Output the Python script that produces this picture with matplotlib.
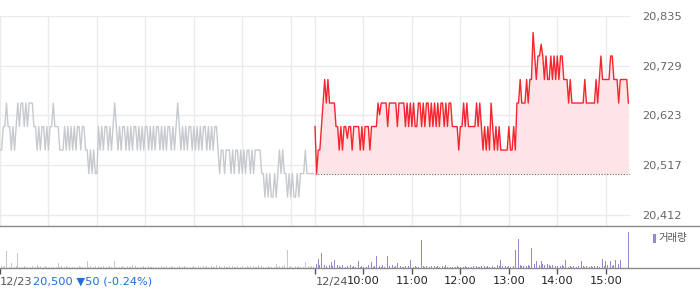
import numpy as np
import matplotlib
matplotlib.use("Agg")
import matplotlib.pyplot as plt
from matplotlib.lines import Line2D
from matplotlib.patches import Rectangle

# prices sampled every 2 minutes, 09:00-15:30
prev_day_price = [
    20550, 20550, 20600, 20600, 20650, 20600, 20600, 20550, 20600, 20550,
    20600, 20650, 20600, 20650, 20650, 20600, 20650, 20600, 20650, 20650,
    20650, 20600, 20600, 20550, 20600, 20550, 20600, 20600, 20550, 20600,
    20550, 20600, 20600, 20650, 20600, 20600, 20600, 20550, 20550, 20550,
    20600, 20550, 20600, 20550, 20600, 20550, 20600, 20550, 20600, 20600,
    20550, 20600, 20600, 20550, 20550, 20500, 20550, 20500, 20550, 20500,
    20500, 20600, 20550, 20600, 20550, 20600, 20600, 20550, 20600, 20550,
    20600, 20650, 20600, 20550, 20600, 20550, 20600, 20600, 20550, 20600,
    20550, 20600, 20550, 20600, 20600, 20550, 20600, 20550, 20600, 20550,
    20600, 20600, 20550, 20600, 20550, 20600, 20550, 20600, 20600, 20550,
    20600, 20550, 20600, 20550, 20600, 20600, 20550, 20600, 20550, 20600,
    20650, 20600, 20550, 20600, 20550, 20600, 20550, 20600, 20600, 20550,
    20600, 20550, 20600, 20550, 20600, 20550, 20600, 20600, 20550, 20600,
    20550, 20600, 20550, 20600, 20600, 20550, 20500, 20550, 20550, 20500,
    20550, 20550, 20550, 20500, 20550, 20500, 20550, 20550, 20500, 20550,
    20500, 20550, 20500, 20550, 20550, 20500, 20550, 20500, 20550, 20550,
    20550, 20550, 20500, 20500, 20450, 20500, 20450, 20500, 20450, 20450,
    20500, 20450, 20500, 20550, 20500, 20550, 20500, 20500, 20450, 20500,
    20450, 20500, 20450, 20450, 20500, 20450, 20500, 20500, 20500, 20550,
    20500, 20500, 20500, 20500, 20500,
]
today_price = [
    20600, 20500, 20550, 20550, 20600, 20650, 20700, 20650, 20700, 20650,
    20650, 20650, 20650, 20600, 20600, 20550, 20600, 20550, 20600, 20600,
    20575, 20600, 20600, 20550, 20600, 20600, 20600, 20600, 20550, 20600,
    20550, 20600, 20600, 20600, 20550, 20600, 20600, 20600, 20600, 20650,
    20625, 20650, 20650, 20650, 20650, 20600, 20650, 20650, 20650, 20650,
    20650, 20600, 20650, 20650, 20650, 20650, 20600, 20650, 20600, 20650,
    20600, 20650, 20600, 20600, 20650, 20650, 20600, 20650, 20600, 20650,
    20650, 20600, 20650, 20600, 20650, 20600, 20650, 20600, 20650, 20650,
    20600, 20650, 20600, 20650, 20650, 20600, 20600, 20600, 20600, 20550,
    20600, 20600, 20650, 20600, 20650, 20600, 20600, 20600, 20600, 20600,
    20650, 20600, 20650, 20600, 20550, 20600, 20550, 20600, 20550, 20650,
    20600, 20550, 20600, 20550, 20600, 20550, 20550, 20550, 20550, 20550,
    20600, 20550, 20550, 20600, 20550, 20650, 20650, 20700, 20650, 20650,
    20650, 20700, 20650, 20700, 20700, 20800, 20750, 20700, 20750, 20750,
    20775, 20750, 20700, 20750, 20700, 20700, 20750, 20700, 20750, 20700,
    20750, 20700, 20750, 20750, 20700, 20700, 20700, 20650, 20700, 20650,
    20650, 20650, 20650, 20650, 20650, 20650, 20650, 20700, 20650, 20650,
    20650, 20650, 20650, 20650, 20700, 20650, 20700, 20750, 20700, 20700,
    20700, 20700, 20700, 20750, 20750, 20700, 20700, 20700, 20650, 20700,
    20700, 20700, 20700, 20700, 20650,
]
prev_day_volume = [
    8, 2, 1, 2, 17, 2, 1, 5, 1, 1, 2, 15, 1, 2, 1,
    2, 1, 1, 2, 1, 2, 1, 1, 3, 1, 2, 1, 1, 2, 1,
    1, 2, 1, 1, 2, 1, 5, 1, 2, 1, 1, 2, 1, 1, 2,
    1, 1, 2, 1, 2, 1, 1, 2, 1, 7, 1, 2, 1, 1, 2,
    1, 2, 1, 1, 2, 4, 1, 1, 2, 1, 1, 7, 1, 2, 1,
    1, 2, 1, 1, 2, 1, 1, 3, 1, 2, 1, 5, 1, 1, 2,
    1, 1, 2, 1, 1, 1, 2, 1, 1, 1, 2, 1, 1, 2, 1,
    1, 2, 1, 1, 18, 1, 2, 1, 1, 2, 1, 1, 2, 1, 1,
    2, 1, 1, 2, 1, 1, 2, 1, 2, 1, 1, 2, 1, 1, 3,
    1, 2, 1, 1, 2, 1, 1, 2, 1, 2, 1, 1, 2, 1, 1,
    2, 1, 1, 2, 1, 2, 1, 2, 1, 1, 3, 1, 2, 1, 2,
    1, 2, 1, 1, 2, 1, 4, 1, 2, 1, 2, 3, 1, 18, 1,
    2, 1, 9, 2, 1, 2, 1, 2, 1, 6, 1, 2, 1, 2, 1,
]
today_volume = [
    24, 4, 9, 3, 15, 6, 3, 2, 27, 3, 6, 2, 8, 2, 3,
    2, 1, 3, 2, 1, 2, 1, 3, 1, 2, 1, 2, 7, 1, 2,
    1, 2, 1, 3, 1, 6, 1, 2, 12, 1, 2, 1, 3, 1, 6,
    12, 2, 1, 3, 1, 2, 5, 1, 2, 1, 1, 2, 1, 2, 8,
    2, 1, 2, 1, 1, 2, 28, 2, 1, 2, 1, 1, 2, 1, 2,
    1, 2, 1, 1, 2, 1, 3, 1, 2, 1, 1, 2, 1, 2, 1,
    1, 2, 1, 2, 1, 1, 2, 1, 2, 1, 2, 1, 1, 2, 1,
    2, 1, 2, 1, 5, 2, 1, 2, 3, 2, 8, 2, 3, 2, 1,
    2, 1, 3, 2, 18, 2, 29, 3, 2, 2, 3, 2, 3, 2, 20,
    3, 4, 7, 6, 3, 7, 4, 3, 7, 4, 3, 2, 3, 2, 2,
    2, 1, 2, 3, 2, 8, 2, 1, 2, 1, 2, 3, 1, 2, 2,
    7, 2, 1, 2, 3, 1, 2, 1, 2, 3, 2, 1, 3, 9, 2,
    7, 3, 2, 7, 2, 3, 8, 3, 4, 8, 2, 0, 0, 0, 36,
]

prev_close = 20500
price_ticks = [20412, 20517.75, 20623.5, 20729.25, 20835]
price_tick_labels = ["20,412", "20,517", "20,623", "20,729", "20,835"]
hour_labels = ["10:00", "11:00", "12:00", "13:00", "14:00", "15:00"]
day_labels = ["12/23", "12/24"]
quote_text = "20,500 \u25bc50 (-0.24%)"

session = 390  # minutes 09:00-15:30
x_prev = np.arange(len(prev_day_price)) * 2
x_today = session + np.arange(len(today_price)) * 2
hour_ticks = [session + 60 * (i + 1) for i in range(len(hour_labels))]
grid_x = list(range(0, session, 60)) + [session] + hour_ticks

W, H = 700, 289
fig = plt.figure(figsize=(W / 100, H / 100), dpi=100)

# price panel
ax = fig.add_axes([0, 1 - 226 / H, 630 / W, 210 / H])
ax.set_xlim(0, 2 * session)
ax.set_ylim(20388.6, 20835)
ax.set_xticks(grid_x)
ax.set_yticks(price_ticks)
ax.set_yticklabels(price_tick_labels)
ax.grid(True, color="#ebebeb", lw=1)
ax.set_axisbelow(True)
for s in ax.spines.values():
    s.set_visible(False)
ax.tick_params(axis="x", length=0, labelbottom=False)
ax.tick_params(axis="y", length=0, left=False, labelleft=False, labelright=True,
               pad=9, labelsize=8.2, labelcolor="#666666")

ax.plot(x_prev, prev_day_price, color="#c6cace", lw=1)
ax.fill_between(x_today, today_price, prev_close, color="#fde5e7", lw=0)
ax.plot(x_today, today_price, color="#f7252f", lw=1)
ax.hlines(prev_close, x_today[0], 2 * session, colors="#666666",
          linestyles=(0, (1, 1.5)), lw=0.8)

# volume panel
vx = fig.add_axes([0, 1 - 268 / H, 630 / W, 42 / H])
vx.set_xlim(0, 2 * session)
vx.set_ylim(0, 42)
vx.bar(x_prev, prev_day_volume, width=0.9, color="#c8c8c8", lw=0)
vx.bar(x_today, today_volume, width=0.9, color="#9a86c8", lw=0)
for s in vx.spines.values():
    s.set_visible(False)
vx.set_yticks([])
vx.set_xticks([0, session] + hour_ticks)
vx.set_xticklabels([""] * 2 + hour_labels)
vx.tick_params(axis="x", length=4, width=1, color="#555555", pad=2,
               labelsize=8.2, labelcolor="#222222")
ty = 1 - 282 / H
fig.text(0, ty, day_labels[0], ha="left", va="center", fontsize=8.2,
         color="#555555")
fig.text(316 / W, ty, day_labels[1], ha="left", va="center", fontsize=8.2,
         color="#555555")
fig.text(33 / W, ty, quote_text, ha="left", va="center",
         fontsize=8.2, color="#1f6fd8")

# separator lines
for yy in (225.5, 268):
    fig.add_artist(Line2D([0, 1], [1 - yy / H] * 2, transform=fig.transFigure,
                          color="#8a8a8a", lw=1))

# volume legend
fig.add_artist(Rectangle((653 / W, 1 - 243 / H), 3 / W, 9 / H,
                         transform=fig.transFigure, color="#9a86c8", lw=0))
fig.text(658 / W, 1 - 238.5 / H, "거래량", ha="left", va="center", fontsize=7.5,
         color="#555555", family=["Noto Sans CJK KR", "DejaVu Sans"])

fig.savefig("out.png", dpi=100)
